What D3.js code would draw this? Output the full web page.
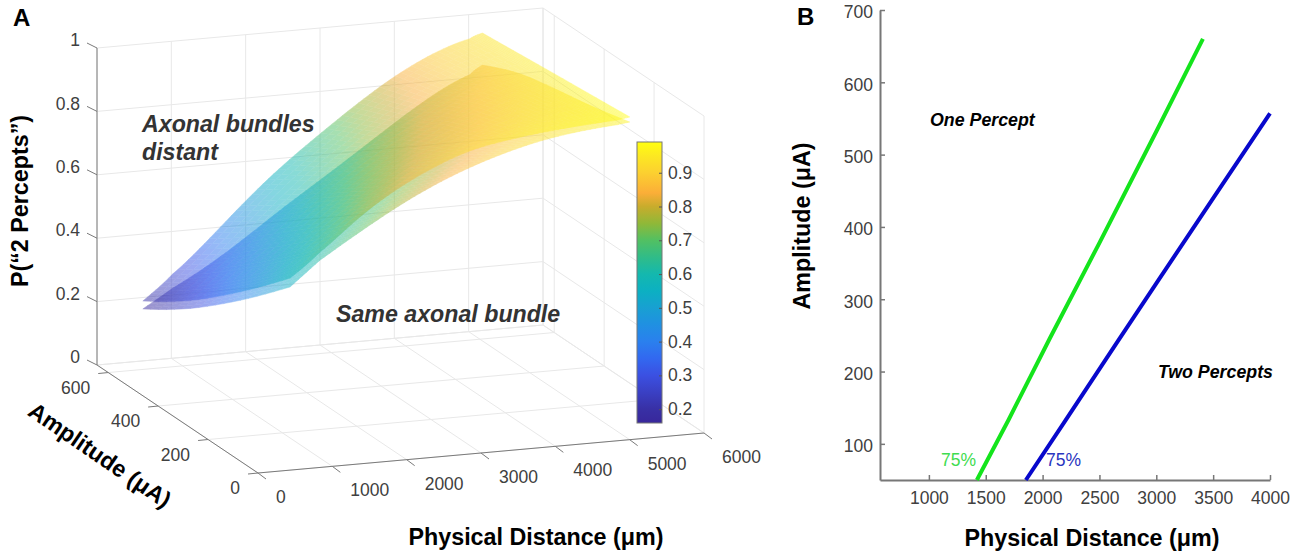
<!DOCTYPE html>
<html>
<head>
<meta charset="utf-8">
<script src="https://cdn.jsdelivr.net/npm/d3@7"></script>
<style>
	html, body { margin: 0; padding: 0; background: #fff; }
	svg { display: block; }
	text { font-family: "Liberation Sans", Arial, sans-serif; }
	.tick-label { font-size: 17.5px; fill: #404040; }
	.title { font-size: 23.3px; font-weight: bold; fill: #000; }
	.panel { font-size: 24px; font-weight: bold; fill: #000; }
	.note { font-weight: bold; font-style: italic; }
</style>
</head>
<body>
<svg id="chart" width="1299" height="552"></svg>
<script>
// panel A
var xTicks3d = [0, 1000, 2000, 3000, 4000, 5000, 6000];
var yTicks3d = [0, 200, 400, 600];
var zTicks3d = [0, 0.2, 0.4, 0.6, 0.8, 1];
var distanceGrid = [600, 1000, 1500, 2000, 2500, 3000, 3500, 4000, 4500, 5000, 5170];
var amplitudeGrid = [50, 200, 350, 500, 640];

// P("2 percepts"), one row per amplitudeGrid entry
var lowerSurface = [
	[0.548, 0.624, 0.697, 0.766, 0.826, 0.874, 0.912, 0.941, 0.958, 0.968, 0.972],
	[0.434, 0.507, 0.582, 0.654, 0.724, 0.783, 0.832, 0.877, 0.909, 0.932, 0.940],
	[0.331, 0.403, 0.480, 0.561, 0.641, 0.710, 0.773, 0.828, 0.875, 0.907, 0.919],
	[0.236, 0.302, 0.377, 0.465, 0.555, 0.630, 0.706, 0.775, 0.834, 0.878, 0.894],
	[0.167, 0.222, 0.287, 0.365, 0.449, 0.525, 0.604, 0.685, 0.761, 0.820, 0.840]
];
var upperSurface = [
	[0.576, 0.643, 0.746, 0.824, 0.883, 0.929, 0.950, 0.965, 0.975, 0.982, 0.988],
	[0.461, 0.533, 0.641, 0.729, 0.803, 0.862, 0.900, 0.932, 0.954, 0.970, 0.976],
	[0.357, 0.433, 0.543, 0.644, 0.728, 0.798, 0.854, 0.899, 0.934, 0.957, 0.965],
	[0.261, 0.334, 0.445, 0.555, 0.651, 0.729, 0.801, 0.863, 0.911, 0.944, 0.952],
	[0.192, 0.262, 0.370, 0.484, 0.585, 0.672, 0.757, 0.833, 0.892, 0.932, 0.941]
];

// colorbar
var colorStops = [0.159, 0.2, 0.25, 0.3, 0.35, 0.4, 0.45, 0.5, 0.55, 0.6, 0.65, 0.7, 0.75, 0.8, 0.84, 0.9, 0.95, 0.991];
var colorValues = ["#38279b", "#3830a5", "#3a40c4", "#3b50e2", "#3268f0", "#2a80ee", "#2090e2", "#18a0d2", "#0cb0c2", "#14b8ae", "#30bc88", "#52c062", "#90b838", "#c8ac2c", "#fbae38", "#fcd030", "#fce822", "#ffff10"];
var colorbarTicks = [0.2, 0.3, 0.4, 0.5, 0.6, 0.7, 0.8, 0.9];

// panel B
var xTicksB = [1000, 1500, 2000, 2500, 3000, 3500, 4000];
var yTicksB = [100, 200, 300, 400, 500, 600, 700];
var greenDistance = [1422, 1700, 2064, 2500, 3000, 3410];
var greenAmplitude = [50, 133, 246, 378, 532, 660];
var blueDistance = [1853, 2200, 2662, 3000, 3489, 4000];
var blueAmplitude = [50, 132, 242, 322, 437, 557];

var svg = d3.select("#chart");
var color = d3.scaleLinear().domain(colorStops).range(colorValues);

// the box is an orthographic projection, one scale per screen component
var u = d3.scaleLinear().domain([0, 6000]).range([0, 1]);
var v = d3.scaleLinear().domain([0, 645]).range([0, 1]);
var w = d3.scaleLinear().domain([0, 1]).range([0, 317]);
function project(x, y, z) {
	return [258 + 446 * u(x) - 161 * v(y), 473 - 40 * u(x) - 108 * v(y) - w(z)];
}

function line3d(g, a, b, stroke, width) {
	var p = project(a[0], a[1], a[2]), q = project(b[0], b[1], b[2]);
	g.append("line")
		.attr("x1", p[0]).attr("y1", p[1])
		.attr("x2", q[0]).attr("y2", q[1])
		.attr("stroke", stroke)
		.attr("stroke-width", width);
}

// grid on floor and back walls
var grid = svg.append("g");
var xMax = 6000, yMax = 645, gridColor = "#e8e8e8";
xTicks3d.forEach(function(x) {
	line3d(grid, [x, 0, 0], [x, yMax, 0], gridColor, 1);
	line3d(grid, [x, yMax, 0], [x, yMax, 1], gridColor, 1);
});
yTicks3d.concat(yMax).forEach(function(y) {
	line3d(grid, [0, y, 0], [xMax, y, 0], gridColor, 1);
	line3d(grid, [xMax, y, 0], [xMax, y, 1], gridColor, 1);
});
zTicks3d.forEach(function(z) {
	line3d(grid, [0, yMax, z], [xMax, yMax, z], gridColor, 1);
	line3d(grid, [xMax, yMax, z], [xMax, 0, z], gridColor, 1);
});

// surfaces, fine cells only for smooth shading between the read values
function drawSurface(values, opacity) {
	var g = svg.append("g").attr("opacity", opacity);
	var nx = 70, ny = 18;
	var rowCurves = values.map(function(row) { return d3.interpolateBasis(row); });
	var xAt = d3.piecewise(d3.interpolateNumber, distanceGrid);
	var yAt = d3.piecewise(d3.interpolateNumber, amplitudeGrid);
	var mesh = d3.range(nx + 1).map(function(i) {
		var t = i / nx;
		var across = d3.interpolateBasis(rowCurves.map(function(f) { return f(t); }));
		return d3.range(ny + 1).map(function(j) {
			var s = j / ny, z = across(s);
			return { z: z, p: project(xAt(t), yAt(s), z) };
		});
	});
	d3.range(nx).forEach(function(i) {
		d3.range(ny).forEach(function(j) {
			var cell = [mesh[i][j], mesh[i + 1][j], mesh[i + 1][j + 1], mesh[i][j + 1]];
			var fill = color(d3.mean(cell, function(c) { return c.z; }));
			g.append("polygon")
				.attr("points", cell.map(function(c) { return c.p.join(","); }).join(" "))
				.attr("fill", fill)
				.attr("stroke", fill)
				.attr("stroke-width", 0.5);
		});
	});
}
drawSurface(lowerSurface, 0.5);
drawSurface(upperSurface, 0.5);

// axes of the box
var axisColor = "#7a7a7a";
var axes = svg.append("g");
line3d(axes, [0, yMax, 0], [0, yMax, 1], axisColor, 1);
line3d(axes, [0, 0, 0], [0, yMax, 0], axisColor, 1);
line3d(axes, [0, 0, 0], [xMax, 0, 0], axisColor, 1);

function tick(g, p, dx, dy) {
	g.append("line")
		.attr("x1", p[0]).attr("y1", p[1])
		.attr("x2", p[0] + dx).attr("y2", p[1] + dy)
		.attr("stroke", axisColor);
}
function label(g, x, y, s, anchor) {
	g.append("text")
		.attr("class", "tick-label")
		.attr("x", x).attr("y", y)
		.attr("dy", "0.35em")
		.attr("text-anchor", anchor)
		.text(s);
}
zTicks3d.forEach(function(z) {
	var p = project(0, yMax, z);
	tick(axes, p, -10, -5);
	label(axes, 80, p[1] - 8, String(z), "end");
});
yTicks3d.forEach(function(y) {
	var p = project(0, y, 0);
	tick(axes, p, -10, 1);
	label(axes, p[0] - 18, p[1] + 15, String(y), "end");
});
xTicks3d.forEach(function(x) {
	var p = project(x, 0, 0);
	tick(axes, p, 8, 6);
	label(axes, p[0] + 18, p[1] + 24, String(x), "start");
});

function title(x, y, angle, s) {
	svg.append("text")
		.attr("class", "title")
		.attr("text-anchor", "middle")
		.attr("dy", "0.35em")
		.attr("transform", "translate(" + x + "," + y + ") rotate(" + angle + ")")
		.text(s);
}
function note(x, y, size, fill, s) {
	svg.append("text")
		.attr("class", "note")
		.attr("x", x).attr("y", y)
		.attr("dy", "0.35em")
		.attr("font-size", size)
		.attr("fill", fill)
		.text(s);
}
title(536, 537, 0, "Physical Distance (μm)");
title(100, 455, 34.5, "Amplitude (μA)");
title(20, 201, -90, "P(“2 Percepts”)");
svg.append("text").attr("class", "panel").attr("x", 13).attr("y", 26).text("A");
svg.append("text").attr("class", "panel").attr("x", 797).attr("y", 25).text("B");
note(142, 124, 23.2, "#333", "Axonal bundles");
note(142, 152, 23.2, "#333", "distant");
note(336, 314, 23.2, "#333", "Same axonal bundle");

// colorbar
var cbar = d3.scaleLinear().domain([0.159, 0.991]).range([423, 142]);
var defs = svg.append("defs");
var grad = defs.append("linearGradient")
	.attr("id", "cbar")
	.attr("x1", 0).attr("y1", 1)
	.attr("x2", 0).attr("y2", 0);
colorStops.forEach(function(s, i) {
	grad.append("stop")
		.attr("offset", (s - 0.159) / (0.991 - 0.159))
		.attr("stop-color", colorValues[i]);
});
svg.append("rect")
	.attr("x", 637).attr("y", 142)
	.attr("width", 25).attr("height", 281)
	.attr("fill", "url(#cbar)")
	.attr("stroke", "#777");
var cbarAxis = svg.append("g")
	.attr("transform", "translate(662,0)")
	.call(d3.axisRight(cbar).tickValues(colorbarTicks).tickFormat(d3.format(".1f")).tickSize(-3).tickPadding(6));
cbarAxis.select(".domain").remove();
cbarAxis.selectAll(".tick line").attr("stroke", "#555");
cbarAxis.selectAll("text").attr("class", "tick-label");
cbarAxis.attr("font-family", null).attr("font-size", null);

// panel B
var xB = d3.scaleLinear().domain([570, 4000]).range([880, 1270]);
var yB = d3.scaleLinear().domain([50, 700]).range([480, 10]);
var gx = svg.append("g")
	.attr("transform", "translate(0,480)")
	.call(d3.axisBottom(xB).tickValues(xTicksB).tickFormat(d3.format("d")).tickSizeInner(-5).tickSizeOuter(0).tickPadding(12));
var gy = svg.append("g")
	.attr("transform", "translate(880,0)")
	.call(d3.axisLeft(yB).tickValues(yTicksB).tickFormat(d3.format("d")).tickSizeInner(-5).tickSizeOuter(0).tickPadding(7));
[gx, gy].forEach(function(a) {
	a.attr("font-family", null).attr("font-size", null);
	a.select(".domain").attr("stroke", "#777").attr("stroke-width", 2);
	a.selectAll(".tick line").attr("stroke", "#777").attr("stroke-width", 1.5);
	a.selectAll("text").attr("class", "tick-label");
});
gy.selectAll("text").attr("dy", "0.45em");

var lineB = d3.line()
	.x(function(d) { return xB(d[0]); })
	.y(function(d) { return yB(d[1]); });
svg.append("path")
	.attr("d", lineB(d3.zip(greenDistance, greenAmplitude)))
	.attr("fill", "none")
	.attr("stroke", "#14e41c")
	.attr("stroke-width", 4);
svg.append("path")
	.attr("d", lineB(d3.zip(blueDistance, blueAmplitude)))
	.attr("fill", "none")
	.attr("stroke", "#0808cc")
	.attr("stroke-width", 4);

svg.append("text").attr("x", 941).attr("y", 460).attr("dy", "0.35em").attr("font-size", 17.5).attr("fill", "#3fdc50").text("75%");
svg.append("text").attr("x", 1046).attr("y", 460).attr("dy", "0.35em").attr("font-size", 17.5).attr("fill", "#2a35c0").text("75%");
note(930, 120, 17.8, "#000", "One Percept");
note(1158, 372, 17.8, "#000", "Two Percepts");
title(1092, 538, 0, "Physical Distance (μm)");
title(802, 226, -90, "Amplitude (μA)");
</script>
</body>
</html>
